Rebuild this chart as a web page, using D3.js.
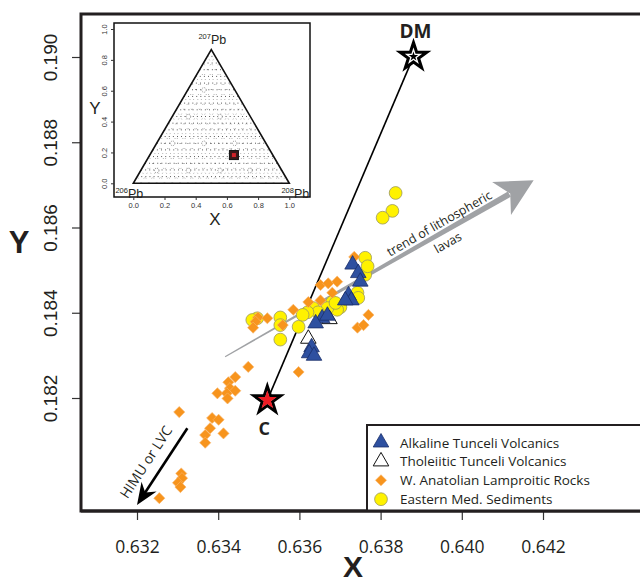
<!DOCTYPE html>
<html lang="en">
<head>
<meta charset="UTF-8">
<title>Pb isotope X-Y plot</title>
<script src="https://cdnjs.cloudflare.com/ajax/libs/d3/7.8.5/d3.min.js"></script>
<style>
  body { margin: 0; background: #fff; }
  svg { display: block; }
</style>
</head>
<body>
<div id="chart"></div>
<script>
// axis ticks
const xTicks = [0.632, 0.634, 0.636, 0.638, 0.640, 0.642];
const yTicks = [0.182, 0.184, 0.186, 0.188, 0.190];

// samples [X, Y]
const alkaline = [[0.63731,0.18513],[0.63745,0.18493],[0.63750,0.18473],[0.63721,0.18441],[0.63728,0.18429],
  [0.63713,0.18429],[0.63656,0.18387],[0.63640,0.18375],[0.63669,0.18393],[0.63630,0.18319],[0.63624,0.18305],[0.63636,0.18299]];
const tholeiitic = [[0.63622,0.18339],[0.63674,0.18385]];
const lamproitic = [[0.63735,0.18531],[0.63770,0.18395],[0.63743,0.18365],[0.63758,0.18371],[0.63652,0.18465],
  [0.63671,0.18469],[0.63693,0.18473],[0.63681,0.18447],[0.63622,0.18425],[0.63652,0.18429],[0.63585,0.18407],
  [0.63498,0.18389],[0.63521,0.18387],[0.63492,0.18379],[0.63486,0.18365],[0.63559,0.18371],[0.63598,0.18261],
  [0.63474,0.18273],[0.63442,0.18249],[0.63425,0.18237],[0.63429,0.18223],[0.63442,0.18217],[0.63398,0.18211],
  [0.63421,0.18211],[0.63423,0.18199],[0.63304,0.18167],[0.63385,0.18153],[0.63401,0.18149],[0.63380,0.18129],
  [0.63368,0.18113],[0.63413,0.18117],[0.63368,0.18095],[0.63309,0.18023],[0.63311,0.18012],[0.63301,0.18001],
  [0.63307,0.17991],[0.63255,0.17965]];
const sediments = [[0.63837,0.18681],[0.63829,0.18639],[0.63805,0.18623],[0.63762,0.18529],[0.63762,0.18489],
  [0.63768,0.18509],[0.63743,0.18447],[0.63745,0.18435],[0.63681,0.18425],[0.63701,0.18413],[0.63693,0.18407],
  [0.63669,0.18411],[0.63689,0.18423],[0.63634,0.18411],[0.63646,0.18401],[0.63620,0.18401],[0.63608,0.18395],
  [0.63598,0.18367],[0.63553,0.18389],[0.63553,0.18371],[0.63553,0.18337],[0.63496,0.18387],[0.63484,0.18383]];

// end members and arrows (data units)
const endC = [0.63521, 0.18195];
const endDM = [0.63881, 0.19001];
const trendArrow = [[0.63417, 0.18297], [0.64177, 0.18711]];
const himuArrow = [[0.63324, 0.18129], [0.63200, 0.17949]];

const legendLabels = ["Alkaline Tunceli Volcanics", "Tholeiitic Tunceli Volcanics",
  "W. Anatolian Lamproitic Rocks", "Eastern Med. Sediments"];

// inset ternary
const insetTicks = [0, 0.2, 0.4, 0.6, 0.8, 1.0];
const insetRings = [[0.15,0.083],[0.353,0.083],[0.556,0.083],[0.748,0.083],[0.252,0.259],[0.453,0.259],
  [0.65,0.259],[0.353,0.432],[0.556,0.432],[0.453,0.605]];
const insetSample = [0.645, 0.183];

const W = 640, H = 582;
const svg = d3.select("#chart").append("svg").attr("width", W).attr("height", H);

const x = d3.scaleLinear().domain([0.632, 0.642]).range([137, 543]);
const y = d3.scaleLinear().domain([0.182, 0.190]).range([398, 57]);

const starPath = r => d3.symbol().type(d3.symbolStar).size(r * r / 0.8908130915292852)();

// axes
const xAxis = svg.append("g").attr("transform", `translate(0,511)`)
  .call(d3.axisBottom(x).tickValues(xTicks).tickFormat(d3.format(".3f")).tickSize(9).tickPadding(21));
xAxis.select(".domain").remove();
xAxis.selectAll("line").attr("stroke", "#333").attr("stroke-width", 1.2);
xAxis.selectAll("text").attr("fill", "#231f20")
  .style("font-family", "'Open Sans', sans-serif").style("font-size", "17.5px");

const yAxis = svg.append("g").attr("transform", `translate(81,0)`)
  .call(d3.axisLeft(y).tickValues(yTicks).tickFormat(d3.format(".3f")).tickSize(9));
yAxis.select(".domain").remove();
yAxis.selectAll("line").attr("stroke", "#333").attr("stroke-width", 1.2);
yAxis.selectAll("text")
  .attr("transform", "rotate(-90)").attr("x", 0).attr("y", -24).attr("dy", 0)
  .style("text-anchor", "middle").attr("fill", "#231f20")
  .style("font-family", "'Liberation Sans', Arial, sans-serif").style("font-size", "19px");

svg.append("text").attr("x", 353).attr("y", 577).attr("text-anchor", "middle")
  .style("font-family", "'Liberation Sans', Arial, sans-serif").style("font-weight", "bold")
  .style("font-size", "30px").attr("fill", "#231f20").text("X");
svg.append("text").attr("x", 19).attr("y", 253).attr("text-anchor", "middle")
  .style("font-family", "'Liberation Sans', Arial, sans-serif").style("font-weight", "bold")
  .style("font-size", "31px").attr("fill", "#231f20").text("Y");

// trend of lithospheric lavas (tapered grey arrow)
{
  const p0 = [x(trendArrow[0][0]), y(trendArrow[0][1])];
  const p1 = [x(trendArrow[1][0]), y(trendArrow[1][1])];
  const dx = p1[0] - p0[0], dy = p1[1] - p0[1], len = Math.hypot(dx, dy);
  const u = [dx / len, dy / len], n = [-u[1], u[0]];
  const at = (d, o) => [p0[0] + u[0] * d + n[0] * o, p0[1] + u[1] * d + n[1] * o];
  const shaftEnd = len - 28;
  svg.append("path").attr("fill", "#a0a2a5")
    .attr("d", d3.line()([at(0, -0.6), at(shaftEnd, -3), at(shaftEnd, 3), at(0, 0.6)]) + "Z");
  svg.append("path").attr("fill", "#a0a2a5")
    .attr("d", d3.line()([at(len, 0), at(len - 37, -19), at(len - 27, 0), at(len - 37, 19)]) + "Z");
  const ang = Math.atan2(dy, dx) * 180 / Math.PI;
  const c = at(252, 0);
  const g = svg.append("g").attr("transform", `translate(${c[0]},${c[1]}) rotate(${ang})`)
    .style("font-family", "'Open Sans', sans-serif").style("font-size", "12.5px").attr("fill", "#231f20");
  g.append("text").attr("x", 0).attr("y", -5).attr("text-anchor", "middle").text("trend of lithospheric");
  g.append("text").attr("x", -2).attr("y", 16).attr("text-anchor", "middle").text("lavas");
}

// C - DM mixing line
svg.append("line")
  .attr("x1", x(endC[0])).attr("y1", y(endC[1]))
  .attr("x2", x(endDM[0])).attr("y2", y(endDM[1]))
  .attr("stroke", "#000").attr("stroke-width", 1.6);

// HIMU or LVC arrow
{
  const p0 = [x(himuArrow[0][0]), y(himuArrow[0][1])];
  const p1 = [x(himuArrow[1][0]), y(himuArrow[1][1])];
  const dx = p1[0] - p0[0], dy = p1[1] - p0[1], len = Math.hypot(dx, dy);
  const u = [dx / len, dy / len], n = [-u[1], u[0]];
  const at = (d, o) => [p0[0] + u[0] * d + n[0] * o, p0[1] + u[1] * d + n[1] * o];
  svg.append("line").attr("x1", p0[0]).attr("y1", p0[1])
    .attr("x2", at(len - 14, 0)[0]).attr("y2", at(len - 14, 0)[1])
    .attr("stroke", "#000").attr("stroke-width", 2.6);
  svg.append("path").attr("fill", "#000")
    .attr("d", d3.line()([at(len, 0), at(len - 22, -9), at(len - 15, 0), at(len - 22, 9)]) + "Z");
  const ang = Math.atan2(-dy, -dx) * 180 / Math.PI;
  const c = at(51, 0);
  svg.append("text").attr("transform", `translate(${c[0]},${c[1]}) rotate(${ang})`)
    .attr("x", 0).attr("y", -11).attr("text-anchor", "middle")
    .style("font-family", "'Open Sans', sans-serif").style("font-size", "14px").attr("fill", "#231f20")
    .text("HIMU or LVC");
}

// symbols
const triPath = d3.symbol().type(d3.symbolTriangle).size(105)();
const diaPath = d3.symbol().type(d3.symbolSquare).size(62)();
const circPath = d3.symbol().type(d3.symbolCircle).size(128)();

const styles = {
  sed: s => s.attr("d", circPath).attr("fill", "#fff200").attr("stroke", "#9a9860").attr("stroke-width", 0.8),
  lam: s => s.attr("d", diaPath).attr("fill", "#f7941d").attr("stroke", "#f9b46a").attr("stroke-width", 0.6),
  tho: s => s.attr("d", triPath).attr("fill", "#fff").attr("stroke", "#111").attr("stroke-width", 1),
  alk: s => s.attr("d", triPath).attr("fill", "#2e50a0").attr("stroke", "#1b2f6a").attr("stroke-width", 0.8)
};

svg.append("g").selectAll("path").data(sediments).join("path")
  .attr("transform", d => `translate(${x(d[0])},${y(d[1])})`).call(styles.sed);
svg.append("g").selectAll("path").data(lamproitic).join("path")
  .attr("transform", d => `translate(${x(d[0])},${y(d[1])}) rotate(45)`).call(styles.lam);
svg.append("g").selectAll("path").data(tholeiitic).join("path")
  .attr("transform", d => `translate(${x(d[0])},${y(d[1])})`).call(styles.tho);
svg.append("g").selectAll("path").data(alkaline).join("path")
  .attr("transform", d => `translate(${x(d[0])},${y(d[1])})`).call(styles.alk);

// end member stars
const cx = x(endC[0]), cy = y(endC[1]);
svg.append("path").attr("d", starPath(14)).attr("transform", `translate(${cx},${cy})`)
  .attr("fill", "#fff").attr("stroke", "#000").attr("stroke-width", 3).attr("stroke-linejoin", "miter");
svg.append("path").attr("d", starPath(10)).attr("transform", `translate(${cx},${cy})`).attr("fill", "#ed1c24");
svg.append("text").attr("x", cx - 3).attr("y", cy + 35).attr("text-anchor", "middle")
  .style("font-family", "'Open Sans', sans-serif").style("font-weight", "bold").style("font-size", "18px")
  .attr("fill", "#231f20").text("C");

const dx0 = x(endDM[0]), dy0 = y(endDM[1]);
svg.append("path").attr("d", starPath(14)).attr("transform", `translate(${dx0},${dy0})`)
  .attr("fill", "#fff").attr("stroke", "#000").attr("stroke-width", 3);
svg.append("path").attr("d", starPath(5)).attr("transform", `translate(${dx0},${dy0})`).attr("fill", "#000");
svg.append("text").attr("x", dx0 + 2).attr("y", dy0 - 19).attr("text-anchor", "middle")
  .style("font-family", "'Open Sans', sans-serif").style("font-weight", "bold").style("font-size", "19px")
  .attr("fill", "#231f20").text("DM");

// frame
svg.append("rect").attr("x", 81).attr("y", 14).attr("width", 620).attr("height", 497)
  .attr("fill", "none").attr("stroke", "#231f20").attr("stroke-width", 3);

// legend
const lg = svg.append("g");
lg.append("rect").attr("x", 367).attr("y", 425).attr("width", 300).attr("height", 86)
  .attr("fill", "#fff").attr("stroke", "#231f20").attr("stroke-width", 2);
const legendStyles = [styles.alk, styles.tho, styles.lam, styles.sed];
legendLabels.forEach((lab, i) => {
  const ly = 442.5 + i * 18.9;
  lg.append("path").attr("transform", `translate(381,${ly})` + (i === 2 ? " rotate(45)" : ""))
    .call(legendStyles[i]);
  lg.append("text").attr("x", 400).attr("y", ly + 5)
    .style("font-family", "'Open Sans', sans-serif").style("font-size", "13.5px")
    .attr("fill", "#231f20").text(lab);
});
svg.append("line").attr("x1", 81).attr("x2", 640).attr("y1", 511).attr("y2", 511)
  .attr("stroke", "#231f20").attr("stroke-width", 3);

// inset ternary diagram
const ix = d3.scaleLinear().domain([0, 1]).range([133.3, 289.3]);
const iy = d3.scaleLinear().domain([0, 1]).range([183.3, 29]);
const inset = svg.append("g");
inset.append("rect").attr("x", 114).attr("y", 23).attr("width", 196).attr("height", 174)
  .attr("fill", "#fff").attr("stroke", "#111").attr("stroke-width", 1.5);

const h = Math.sqrt(3) / 2;
const grid = inset.append("g").attr("stroke", "#333").attr("fill", "none");
const seg = (a, b, dash, w) => grid.append("line")
  .attr("x1", ix(a[0])).attr("y1", iy(a[1])).attr("x2", ix(b[0])).attr("y2", iy(b[1]))
  .attr("stroke-dasharray", dash).attr("stroke-width", w);
d3.range(1, 20).map(i => i / 20).forEach(t => {
  seg([0.5 * t, h * t], [1 - 0.5 * t, h * t], "0.9,3.2", 0.9);
  seg([t, 0], [t + 0.5 * (1 - t), h * (1 - t)], "0.7,5", 0.6);
  seg([t, 0], [0.5 * t, h * t], "0.7,5", 0.6);
});
inset.append("g").selectAll("circle").data(insetRings).join("circle")
  .attr("cx", d => ix(d[0])).attr("cy", d => iy(d[1])).attr("r", 2.3)
  .attr("fill", "#fff").attr("stroke", "#666").attr("stroke-width", 0.7).attr("stroke-dasharray", "1,1");

inset.append("path")
  .attr("d", d3.line()([[ix(0), iy(0)], [ix(1), iy(0)], [ix(0.5), iy(h)]]) + "Z")
  .attr("fill", "none").attr("stroke", "#111").attr("stroke-width", 1.6);

inset.append("rect").attr("x", ix(insetSample[0]) - 4.5).attr("y", iy(insetSample[1]) - 4.5)
  .attr("width", 9).attr("height", 9).attr("fill", "#3a1a1a").attr("stroke", "#111");
inset.append("rect").attr("x", ix(insetSample[0]) - 2).attr("y", iy(insetSample[1]) - 2)
  .attr("width", 4).attr("height", 4).attr("fill", "#d2232a");

const ixAxis = inset.append("g").attr("transform", "translate(0,197)")
  .call(d3.axisBottom(ix).tickValues(insetTicks).tickFormat(d3.format(".1f")).tickSize(3).tickPadding(3));
const iyAxis = inset.append("g").attr("transform", "translate(114,0)")
  .call(d3.axisLeft(iy).tickValues(insetTicks).tickFormat(d3.format(".1f")).tickSize(3));
[ixAxis, iyAxis].forEach(a => {
  a.select(".domain").remove();
  a.selectAll("line").attr("stroke", "#333");
  a.selectAll("text").attr("fill", "#333")
    .style("font-family", "'Liberation Sans', Arial, sans-serif").style("font-size", "7.5px");
});
iyAxis.selectAll("text").attr("transform", "rotate(-90)").attr("x", 0).attr("y", -7).attr("dy", 0)
  .style("text-anchor", "middle");

inset.append("text").attr("x", 215).attr("y", 225).attr("text-anchor", "middle")
  .style("font-family", "'Liberation Sans', Arial, sans-serif").style("font-size", "17px")
  .attr("fill", "#231f20").text("X");
inset.append("text").attr("x", 95).attr("y", 114).attr("text-anchor", "middle")
  .style("font-family", "'Liberation Sans', Arial, sans-serif").style("font-size", "17px")
  .attr("fill", "#231f20").text("Y");

const pbLabel = (px, py, iso) => {
  const t = inset.append("text").attr("x", px).attr("y", py).attr("text-anchor", "middle")
    .style("font-family", "'Liberation Sans', Arial, sans-serif").attr("fill", "#231f20");
  t.append("tspan").style("font-size", "7.5px").attr("dy", -5).text(iso);
  t.append("tspan").style("font-size", "12.5px").attr("dy", 5).text("Pb");
};
pbLabel(ix(0.5) + 1, iy(h) - 6, "207");
pbLabel(ix(0) - 4, iy(0) + 15, "206");
pbLabel(ix(1) + 6, iy(0) + 15, "208");
</script>
</body>
</html>
